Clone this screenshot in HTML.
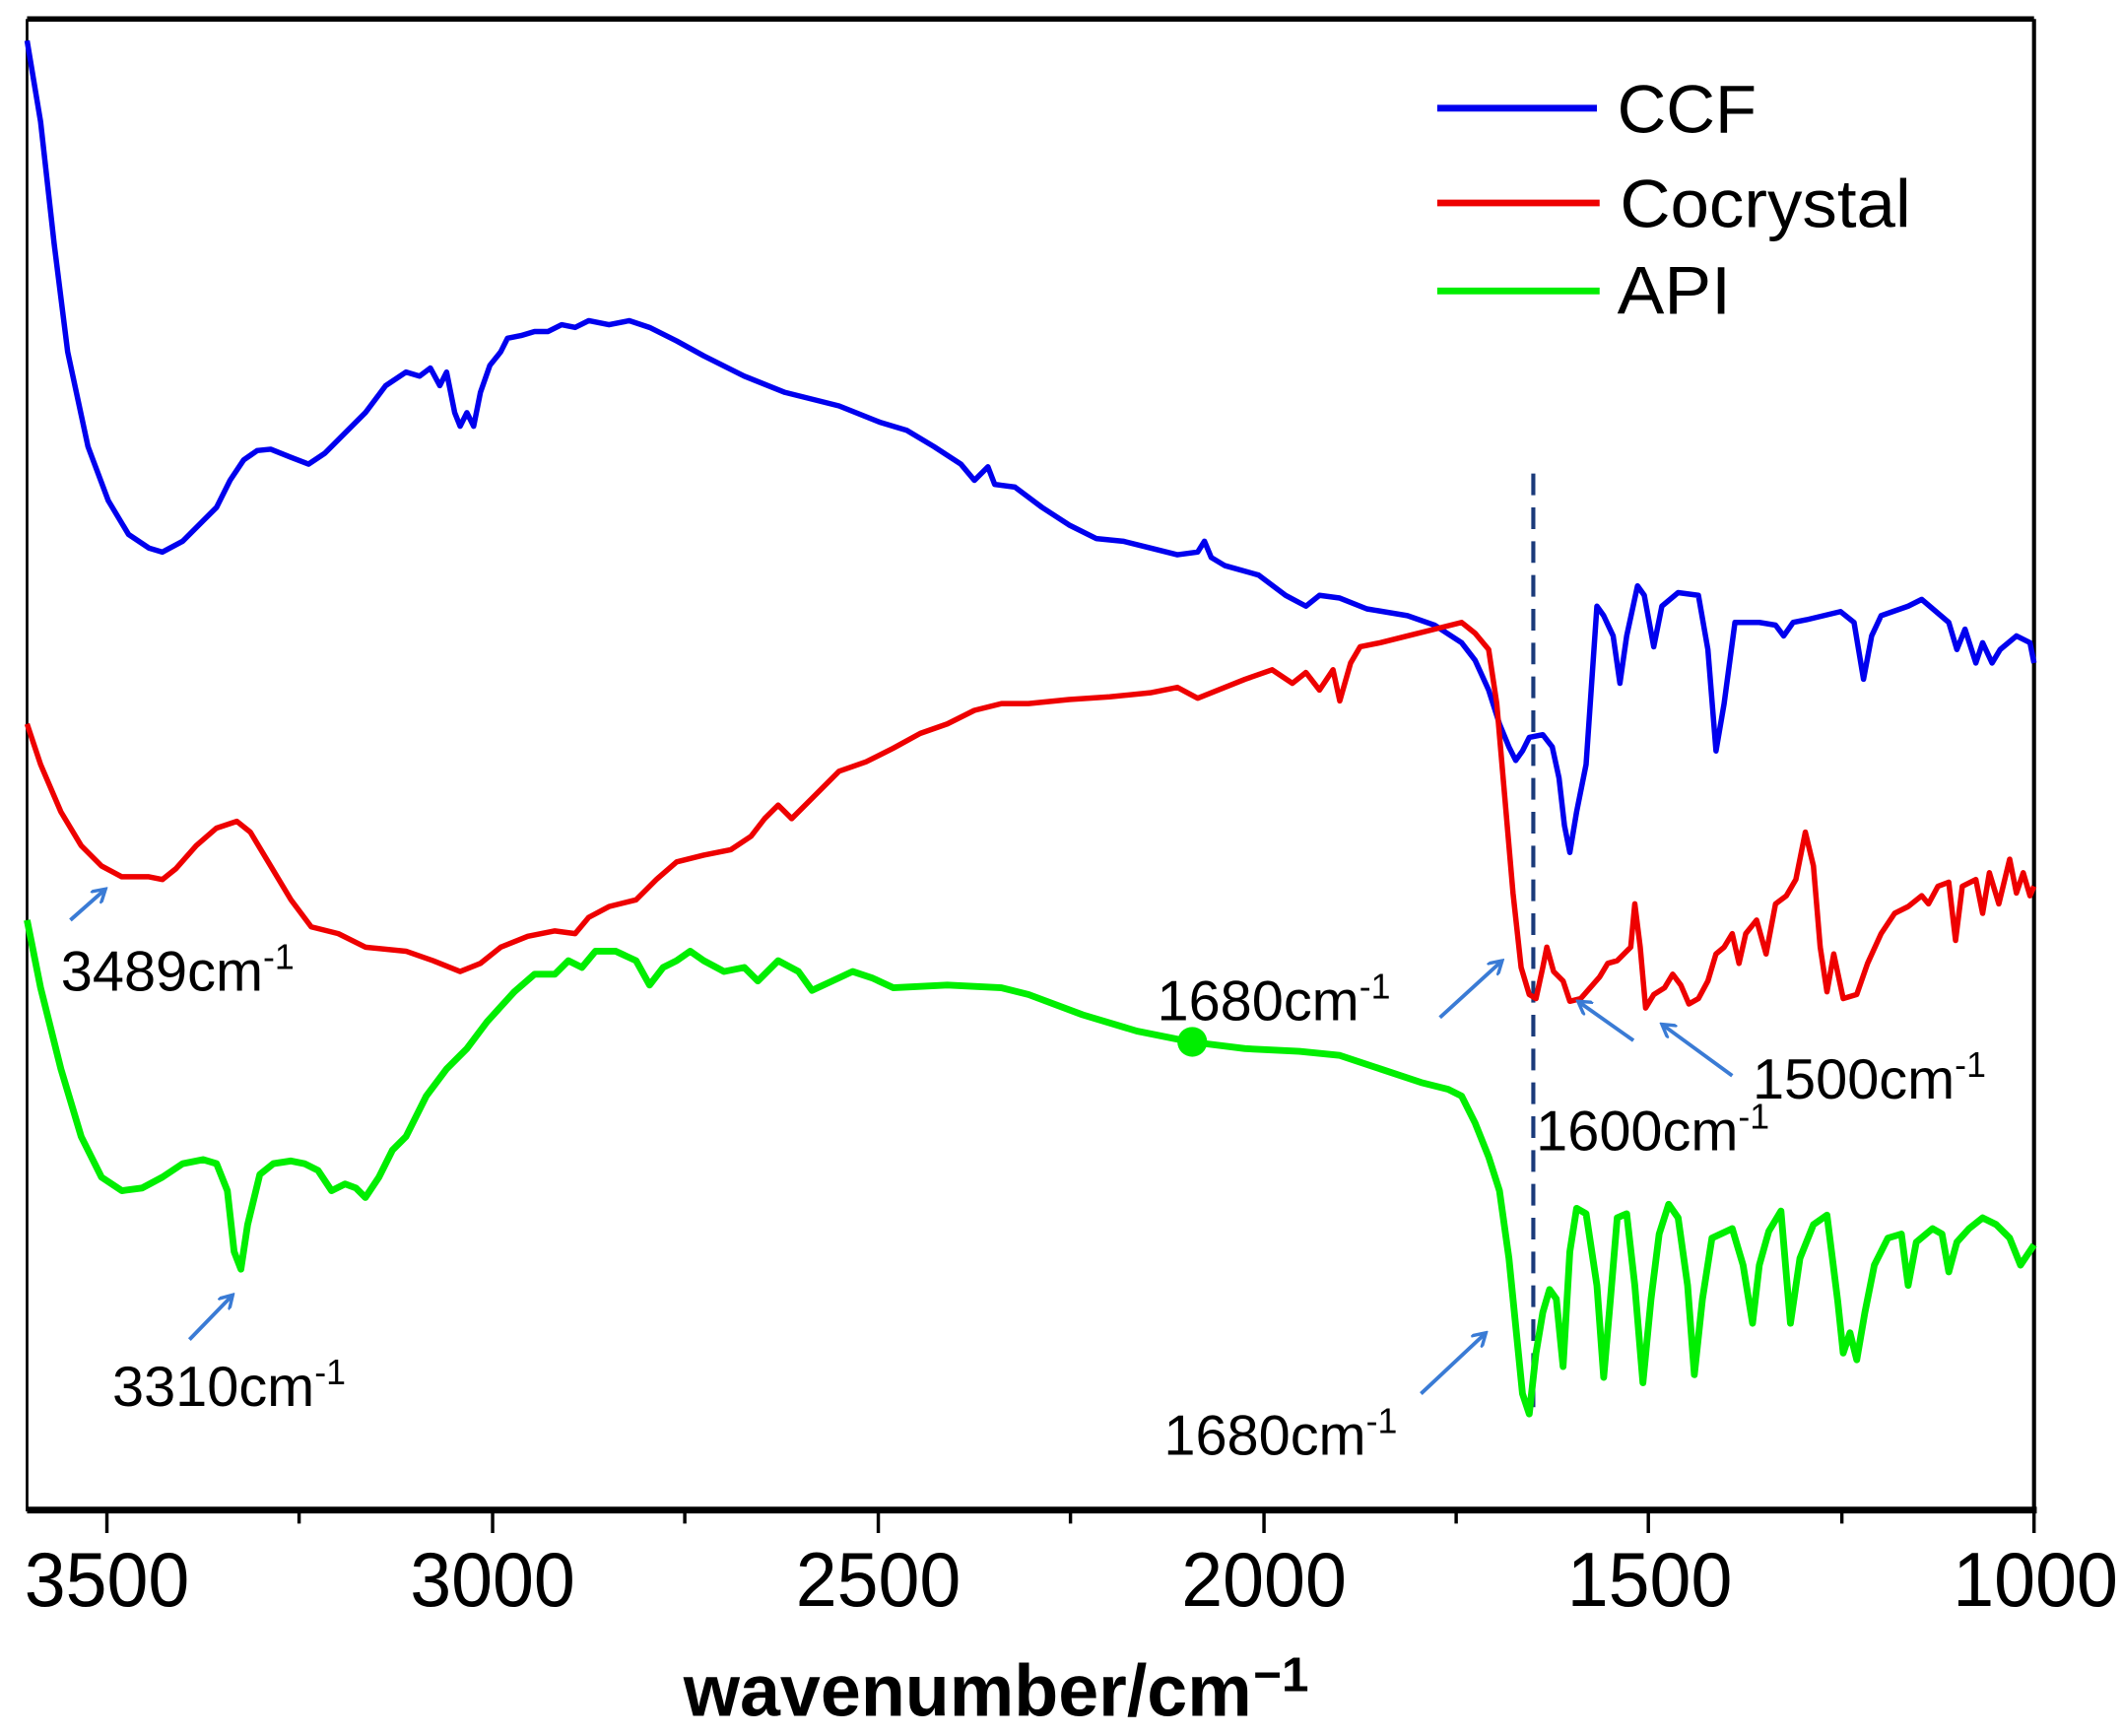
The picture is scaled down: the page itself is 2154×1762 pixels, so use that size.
<!DOCTYPE html>
<html><head><style>html,body{margin:0;padding:0;background:#fff;}svg{display:block;}</style></head>
<body>
<svg width="2154" height="1762" viewBox="0 0 1568 1283" preserveAspectRatio="none" xmlns="http://www.w3.org/2000/svg" font-family="'Liberation Sans', Arial, sans-serif">
<rect width="1568" height="1283" fill="#fff"/>
<defs><marker id="ah" markerWidth="12" markerHeight="12" refX="10" refY="6" orient="auto" markerUnits="userSpaceOnUse"><path d="M0,0 L10,6 L0,12" fill="none" stroke="#3a7bd5" stroke-width="2.5"/></marker></defs>
<line x1="20" y1="14" x2="1503" y2="14" stroke="#000" stroke-width="4"/>
<line x1="20" y1="14" x2="20" y2="1117" stroke="#000" stroke-width="2"/>
<line x1="1503" y1="14" x2="1503" y2="1117" stroke="#000" stroke-width="3"/>
<line x1="20" y1="1116" x2="1505" y2="1116" stroke="#000" stroke-width="5"/>
<g stroke="#000" stroke-width="2.5">
<line x1="79" y1="1116" x2="79" y2="1133"/><line x1="364" y1="1116" x2="364" y2="1133"/><line x1="649" y1="1116" x2="649" y2="1133"/><line x1="934" y1="1116" x2="934" y2="1133"/><line x1="1218" y1="1116" x2="1218" y2="1133"/><line x1="1503" y1="1116" x2="1503" y2="1133"/>
<line x1="221" y1="1116" x2="221" y2="1126"/><line x1="506" y1="1116" x2="506" y2="1126"/><line x1="791" y1="1116" x2="791" y2="1126"/><line x1="1076" y1="1116" x2="1076" y2="1126"/><line x1="1361" y1="1116" x2="1361" y2="1126"/>
</g>
<g font-size="57" fill="#000" lengthAdjust="spacingAndGlyphs">
<text x="18" y="1187" textLength="122" lengthAdjust="spacingAndGlyphs">3500</text>
<text x="303" y="1187" textLength="122" lengthAdjust="spacingAndGlyphs">3000</text>
<text x="588" y="1187" textLength="122" lengthAdjust="spacingAndGlyphs">2500</text>
<text x="873" y="1187" textLength="122" lengthAdjust="spacingAndGlyphs">2000</text>
<text x="1158" y="1187" textLength="122" lengthAdjust="spacingAndGlyphs">1500</text>
<text x="1443" y="1187" textLength="122" lengthAdjust="spacingAndGlyphs">1000</text>
</g>
<text x="505" y="1268" font-size="54" font-weight="bold" textLength="420" lengthAdjust="spacingAndGlyphs">wavenumber/cm</text>
<text x="926" y="1250" font-size="36" font-weight="bold">−1</text>
<line x1="1133" y1="350" x2="1133" y2="1040" stroke="#1a3a7a" stroke-width="3" stroke-dasharray="16,9"/>
<polyline fill="none" stroke="#0000ee" stroke-width="4" stroke-linejoin="round" points="20,30 30,90 40,180 50,260 65,330 80,370 95,395 110,405 120,408 135,400 150,385 160,375 170,355 180,340 190,333 200,332 215,338 228,343 240,335 255,320 270,305 285,285 300,275 310,278 318,272 325,285 330,275 336,305 340,315 345,305 350,315 355,290 362,270 370,260 375,250 385,248 395,245 405,245 415,240 425,242 435,237 450,240 465,237 480,242 500,252 520,263 550,278 580,290 620,300 650,312 670,318 690,330 710,343 720,355 730,345 735,358 750,360 770,375 790,388 810,398 830,400 850,405 870,410 885,408 890,400 895,412 905,418 930,425 950,440 965,448 975,440 990,442 1010,450 1040,455 1060,462 1080,475 1090,488 1100,510 1108,535 1115,552 1120,562 1125,555 1130,545 1140,543 1147,552 1152,575 1156,610 1160,630 1165,600 1172,565 1180,448 1185,455 1192,470 1197,505 1202,470 1210,433 1215,440 1222,478 1228,448 1240,438 1255,440 1262,480 1268,555 1274,520 1282,460 1300,460 1312,462 1318,470 1325,460 1335,458 1360,452 1370,460 1377,502 1383,470 1390,455 1410,448 1420,443 1440,460 1446,480 1452,465 1460,490 1465,475 1472,490 1478,480 1490,470 1500,475 1503,490"/>
<polyline fill="none" stroke="#ee0000" stroke-width="4" stroke-linejoin="round" points="20,535 30,565 45,600 60,625 75,640 90,648 110,648 120,650 130,642 145,625 160,612 175,607 185,615 200,640 215,665 230,685 250,690 270,700 300,703 320,710 340,718 355,712 370,700 390,692 410,688 425,690 435,678 450,670 470,665 485,650 500,637 520,632 540,628 555,618 565,605 575,595 585,605 600,590 620,570 640,563 660,553 680,542 700,535 720,525 740,520 760,520 790,517 820,515 850,512 870,508 885,516 900,510 920,502 940,495 955,505 965,497 975,510 985,495 990,518 998,490 1005,478 1020,475 1040,470 1060,465 1080,460 1090,468 1100,480 1106,520 1112,590 1118,660 1124,715 1130,735 1135,738 1140,715 1143,700 1148,718 1155,725 1160,740 1168,738 1175,730 1182,722 1188,712 1195,710 1200,705 1205,700 1208,668 1212,700 1216,745 1222,735 1230,730 1236,720 1242,728 1248,742 1255,738 1262,725 1268,705 1274,700 1280,690 1285,712 1290,690 1298,680 1305,705 1312,668 1320,662 1327,650 1334,615 1340,640 1345,700 1350,733 1355,705 1362,738 1372,735 1380,712 1390,690 1400,675 1410,670 1420,662 1425,668 1432,655 1440,652 1445,695 1450,655 1460,650 1465,675 1470,645 1477,668 1485,635 1490,660 1495,645 1500,662 1503,655"/>
<polyline fill="none" stroke="#00ee00" stroke-width="5" stroke-linejoin="round" points="20,680 30,730 45,790 60,840 75,870 90,880 105,878 120,870 135,860 150,857 160,860 168,880 173,925 178,938 183,905 192,868 202,860 215,858 225,860 235,865 245,880 255,875 263,878 270,885 280,870 290,850 300,840 315,810 330,790 345,775 360,755 380,733 395,720 410,720 420,710 430,715 440,703 455,703 470,710 480,728 490,715 500,710 510,703 520,710 535,718 550,715 560,725 575,710 590,718 600,732 615,725 630,718 645,723 660,730 700,728 740,730 760,735 800,750 840,762 880,770 920,775 960,777 990,780 1020,790 1050,800 1070,805 1080,810 1090,830 1100,855 1108,880 1115,930 1120,980 1125,1030 1130,1045 1135,1000 1140,970 1145,953 1150,960 1155,1010 1160,925 1165,893 1172,897 1180,950 1185,1018 1190,960 1195,900 1202,897 1208,950 1214,1022 1220,960 1226,912 1233,890 1240,900 1247,950 1252,1016 1258,960 1265,915 1280,908 1288,935 1295,978 1300,935 1307,910 1316,895 1323,978 1330,930 1340,905 1350,898 1358,962 1362,1000 1367,985 1372,1005 1378,970 1385,935 1395,915 1405,912 1410,950 1416,918 1428,908 1435,912 1440,940 1446,918 1455,908 1465,900 1475,905 1485,915 1493,935 1503,920"/>
<circle cx="881" cy="770" r="11" fill="#00ee00"/>
<line x1="1062" y1="80" x2="1180" y2="80" stroke="#0000ee" stroke-width="5"/>
<line x1="1062" y1="150" x2="1182" y2="150" stroke="#ee0000" stroke-width="5"/>
<line x1="1062" y1="215" x2="1182" y2="215" stroke="#00ee00" stroke-width="5"/>
<g font-size="50" fill="#000">
<text x="1195" y="98" textLength="103" lengthAdjust="spacingAndGlyphs">CCF</text>
<text x="1197" y="168" textLength="215" lengthAdjust="spacingAndGlyphs">Cocrystal</text>
<text x="1195" y="232" textLength="84" lengthAdjust="spacingAndGlyphs">API</text>
</g>
<g stroke="#3a7bd5" stroke-width="2.8" marker-end="url(#ah)" fill="none">
<line x1="52" y1="680" x2="78" y2="657"/>
<line x1="1064" y1="752" x2="1110" y2="710"/>
<line x1="1207" y1="769" x2="1166" y2="740"/>
<line x1="1280" y1="795" x2="1228" y2="757"/>
<line x1="140" y1="990" x2="172" y2="957"/>
<line x1="1050" y1="1030" x2="1098" y2="985"/>
</g>
<g font-size="42" fill="#000">
<text x="45" y="732">3489cm<tspan font-size="26" dy="-16">-1</tspan></text>
<text x="855" y="754">1680cm<tspan font-size="26" dy="-16">-1</tspan></text>
<text x="1135" y="850">1600cm<tspan font-size="26" dy="-16">-1</tspan></text>
<text x="1295" y="812">1500cm<tspan font-size="26" dy="-16">-1</tspan></text>
<text x="83" y="1039">3310cm<tspan font-size="26" dy="-16">-1</tspan></text>
<text x="860" y="1075">1680cm<tspan font-size="26" dy="-16">-1</tspan></text>
</g>
</svg>
</body></html>
